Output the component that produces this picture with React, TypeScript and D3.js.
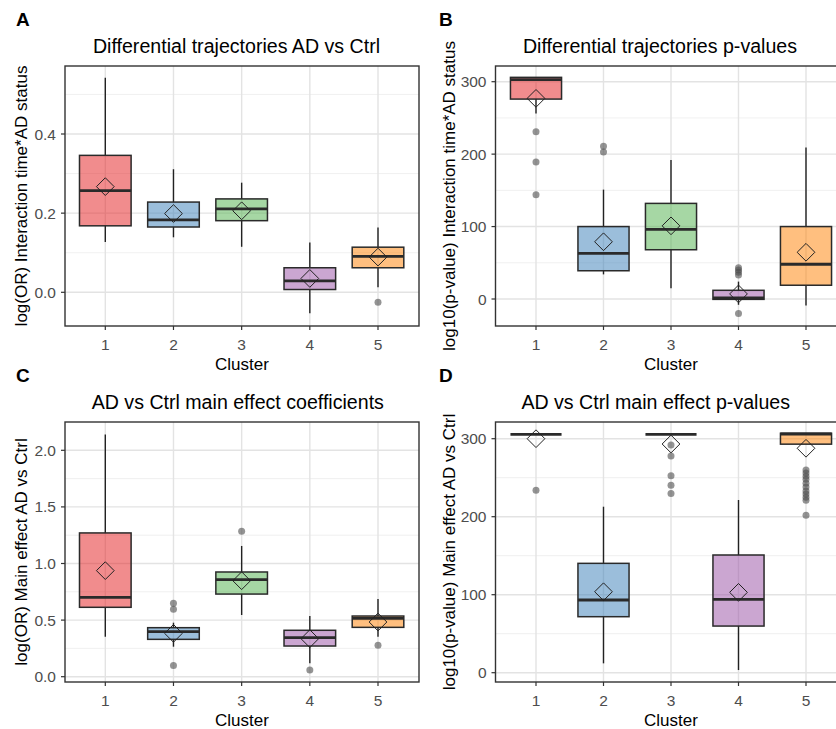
import React from "react";
import * as d3 from "d3";

const categories = ["1", "2", "3", "4", "5"];
const clusterColors = ["#E41A1C", "#377EB8", "#4DAF4A", "#984EA3", "#FF7F00"];

// Panel A: Differential trajectories AD vs Ctrl
const aLow = [0.127, 0.139, 0.115, -0.053, 0.013];
const aQ1 = [0.168, 0.165, 0.181, 0.007, 0.062];
const aMed = [0.257, 0.183, 0.211, 0.029, 0.091];
const aQ3 = [0.346, 0.228, 0.236, 0.062, 0.114];
const aHigh = [0.542, 0.311, 0.277, 0.126, 0.164];
const aMean = [0.267, 0.199, 0.206, 0.035, 0.089];
const aOut = [[], [], [], [], [-0.025]];

// Panel B: Differential trajectories p-values
const bLow = [256, 34, 15, -8, -9];
const bQ1 = [276, 39, 68, -0.5, 19];
const bMed = [303, 63, 96, 1.5, 48];
const bQ3 = [306, 100, 132, 12, 100];
const bHigh = [306, 151, 192, 24, 209];
const bMean = [277, 79, 101, 7, 64.5];
const bOut = [[231, 189, 144], [211, 203], [], [43, 40, 37, 33, -20], []];

// Panel C: AD vs Ctrl main effect coefficients
const cLow = [0.353, 0.265, 0.545, 0.118, 0.353];
const cQ1 = [0.613, 0.33, 0.73, 0.271, 0.436];
const cMed = [0.7, 0.398, 0.857, 0.345, 0.515];
const cQ3 = [1.27, 0.433, 0.925, 0.41, 0.536];
const cHigh = [2.14, 0.477, 1.155, 0.536, 0.686];
const cMean = [0.937, 0.383, 0.848, 0.336, 0.483];
const cOut = [[], [0.648, 0.595, 0.1], [1.284], [0.059], [0.277]];

// Panel D: AD vs Ctrl main effect p-values
const dLow = [305.6, 12, 305.6, 3.4, 293];
const dQ1 = [305.6, 71.8, 305.6, 59.8, 293];
const dMed = [305.6, 93.2, 305.6, 94, 306];
const dQ3 = [305.6, 140.2, 305.6, 150.9, 307];
const dHigh = [305.6, 212.8, 305.6, 221.4, 307];
const dMean = [300, 103.8, 293.2, 103, 287.7];
const dOut = [
  [233.8],
  [],
  [291.9, 277.8, 252.6, 240.2, 229.9],
  [],
  [260, 256, 252, 248, 243, 238, 233, 229, 225, 221, 202],
];

const aTicks = [0, 0.2, 0.4];
const aMinor = [0.1, 0.3, 0.5];
const bTicks = [0, 100, 200, 300];
const bMinor = [50, 150, 250];
const cTicks = [0, 0.5, 1, 1.5, 2];
const cMinor = [0.25, 0.75, 1.25, 1.75];
const dTicks = [0, 100, 200, 300];
const dMinor = [50, 150, 250];

const FONT = "'Liberation Sans', Arial, Helvetica, sans-serif";

type PanelProps = {
  letter: string;
  title: string;
  yLabel: string;
  left: number;
  right: number;
  top: number;
  bottom: number;
  xRange: [number, number];
  yCal: [number, number, number, number];
  ticks: number[];
  minor: number[];
  fmt: (v: number) => string;
  titleX: number;
  yLabelX: number;
  letterX: number;
  low: number[];
  q1: number[];
  med: number[];
  q3: number[];
  high: number[];
  mean: number[];
  out: number[][];
};

function Panel(p: PanelProps) {
  const x = d3.scalePoint<string>().domain(categories).range(p.xRange);
  const y = d3.scaleLinear().domain([p.yCal[0], p.yCal[2]]).range([p.yCal[1], p.yCal[3]]);
  const step = x.step();
  const bw = step * 0.757;
  const cy = (p.top + p.bottom) / 2;
  const cx = (p.left + p.right) / 2;
  const diamond = d3.symbol().type(d3.symbolDiamond2).size(200)();
  return (
    <g>
      <text x={p.letterX} y={p.top - 40} fontFamily={FONT} fontWeight="bold" fontSize={19} fill="#000">
        {p.letter}
      </text>
      <text x={p.titleX} y={p.top - 13.5} textAnchor="middle" fontFamily={FONT} fontSize={19.6} fill="#000">
        {p.title}
      </text>
      <rect x={p.left} y={p.top} width={p.right - p.left} height={p.bottom - p.top} fill="#fff" />
      {p.minor.map((v) => (
        <line key={"mi" + v} x1={p.left} x2={p.right} y1={y(v)} y2={y(v)} stroke="#eeeeee" strokeWidth={0.9} />
      ))}
      {p.ticks.map((v) => (
        <line key={"ma" + v} x1={p.left} x2={p.right} y1={y(v)} y2={y(v)} stroke="#e3e3e3" strokeWidth={1.4} />
      ))}
      {categories.map((c) => (
        <line key={"xg" + c} x1={x(c)} x2={x(c)} y1={p.top} y2={p.bottom} stroke="#e3e3e3" strokeWidth={1.4} />
      ))}
      {categories.map((c, i) => {
        const xc = x(c) as number;
        return (
          <g key={"box" + c}>
            {p.high[i] > p.q3[i] && (
              <line x1={xc} x2={xc} y1={y(p.high[i])} y2={y(p.q3[i])} stroke="#222" strokeWidth={1.4} />
            )}
            {p.low[i] < p.q1[i] && (
              <line x1={xc} x2={xc} y1={y(p.q1[i])} y2={y(p.low[i])} stroke="#222" strokeWidth={1.4} />
            )}
            <rect
              x={xc - bw / 2}
              y={y(p.q3[i])}
              width={bw}
              height={Math.max(0, y(p.q1[i]) - y(p.q3[i]))}
              fill={clusterColors[i]}
              fillOpacity={0.5}
              stroke="#2a2a2a"
              strokeWidth={1.5}
            />
            <line
              x1={xc - bw / 2}
              x2={xc + bw / 2}
              y1={y(p.med[i])}
              y2={y(p.med[i])}
              stroke="#2a2a2a"
              strokeWidth={2.8}
            />
            {p.out[i].map((v, k) => (
              <circle key={k} cx={xc} cy={y(v)} r={3.5} fill="#4d4d4d" fillOpacity={0.6} />
            ))}
            <path
              d={diamond as string}
              transform={`translate(${xc},${y(p.mean[i])})`}
              fill="none"
              stroke="#222"
              strokeWidth={1}
            />
          </g>
        );
      })}
      <rect
        x={p.left}
        y={p.top}
        width={p.right - p.left}
        height={p.bottom - p.top}
        fill="none"
        stroke="#333"
        strokeWidth={1.4}
      />
      {p.ticks.map((v) => (
        <g key={"yt" + v}>
          <line x1={p.left - 4} x2={p.left} y1={y(v)} y2={y(v)} stroke="#333" strokeWidth={1.2} />
          <text
            x={p.left - 9}
            y={y(v)}
            dy="0.36em"
            textAnchor="end"
            fontFamily={FONT}
            fontSize={15.5}
            fill="#4d4d4d"
          >
            {p.fmt(v)}
          </text>
        </g>
      ))}
      {categories.map((c) => (
        <g key={"xt" + c}>
          <line x1={x(c)} x2={x(c)} y1={p.bottom} y2={p.bottom + 4} stroke="#333" strokeWidth={1.2} />
          <text
            x={x(c)}
            y={p.bottom + 23.5}
            textAnchor="middle"
            fontFamily={FONT}
            fontSize={15.5}
            fill="#4d4d4d"
          >
            {c}
          </text>
        </g>
      ))}
      <text x={cx} y={p.bottom + 44} textAnchor="middle" fontFamily={FONT} fontSize={17} fill="#000">
        Cluster
      </text>
      <text
        transform={`translate(${p.yLabelX},${cy}) rotate(-90)`}
        dy="0.36em"
        textAnchor="middle"
        fontFamily={FONT}
        fontSize={17}
        fill="#000"
      >
        {p.yLabel}
      </text>
    </g>
  );
}

export default function App() {
  const f1 = d3.format(".1f");
  const f0 = d3.format("d");
  return (
    <svg
      width={836}
      height={729}
      viewBox="0 0 836 729"
      style={{ position: "absolute", left: 0, top: 0, background: "#fff" }}
    >
      <rect x={0} y={0} width={836} height={729} fill="#fff" />
      <Panel
        letter="A"
        title="Differential trajectories AD vs Ctrl"
        yLabel="log(OR) Interaction time*AD status"
        left={65}
        right={419}
        top={66}
        bottom={326}
        xRange={[105.3, 378]}
        yCal={[0, 292.3, 0.4, 134]}
        ticks={aTicks}
        minor={aMinor}
        fmt={f1}
        titleX={236.5}
        yLabelX={20.5}
        letterX={16}
        low={aLow}
        q1={aQ1}
        med={aMed}
        q3={aQ3}
        high={aHigh}
        mean={aMean}
        out={aOut}
      />
      <Panel
        letter="B"
        title="Differential trajectories p-values"
        yLabel="log10(p-value) Interaction time*AD status"
        left={495.5}
        right={846.5}
        top={66}
        bottom={326}
        xRange={[536, 806]}
        yCal={[0, 299, 300, 81.7]}
        ticks={bTicks}
        minor={bMinor}
        fmt={f0}
        titleX={660}
        yLabelX={449}
        letterX={439}
        low={bLow}
        q1={bQ1}
        med={bMed}
        q3={bQ3}
        high={bHigh}
        mean={bMean}
        out={bOut}
      />
      <Panel
        letter="C"
        title="AD vs Ctrl main effect coefficients"
        yLabel="log(OR) Main effect AD vs Ctrl"
        left={65}
        right={419}
        top={422}
        bottom={682}
        xRange={[105.3, 378]}
        yCal={[0, 676.7, 2, 450.3]}
        ticks={cTicks}
        minor={cMinor}
        fmt={f1}
        titleX={237.8}
        yLabelX={20.5}
        letterX={16}
        low={cLow}
        q1={cQ1}
        med={cMed}
        q3={cQ3}
        high={cHigh}
        mean={cMean}
        out={cOut}
      />
      <Panel
        letter="D"
        title="AD vs Ctrl main effect p-values"
        yLabel="log10(p-value) Main effect AD vs Ctrl"
        left={495.5}
        right={846.5}
        top={422}
        bottom={682}
        xRange={[536, 806]}
        yCal={[0, 672.7, 300, 438.7]}
        ticks={dTicks}
        minor={dMinor}
        fmt={f0}
        titleX={655.7}
        yLabelX={449}
        letterX={439}
        low={dLow}
        q1={dQ1}
        med={dMed}
        q3={dQ3}
        high={dHigh}
        mean={dMean}
        out={dOut}
      />
    </svg>
  );
}
